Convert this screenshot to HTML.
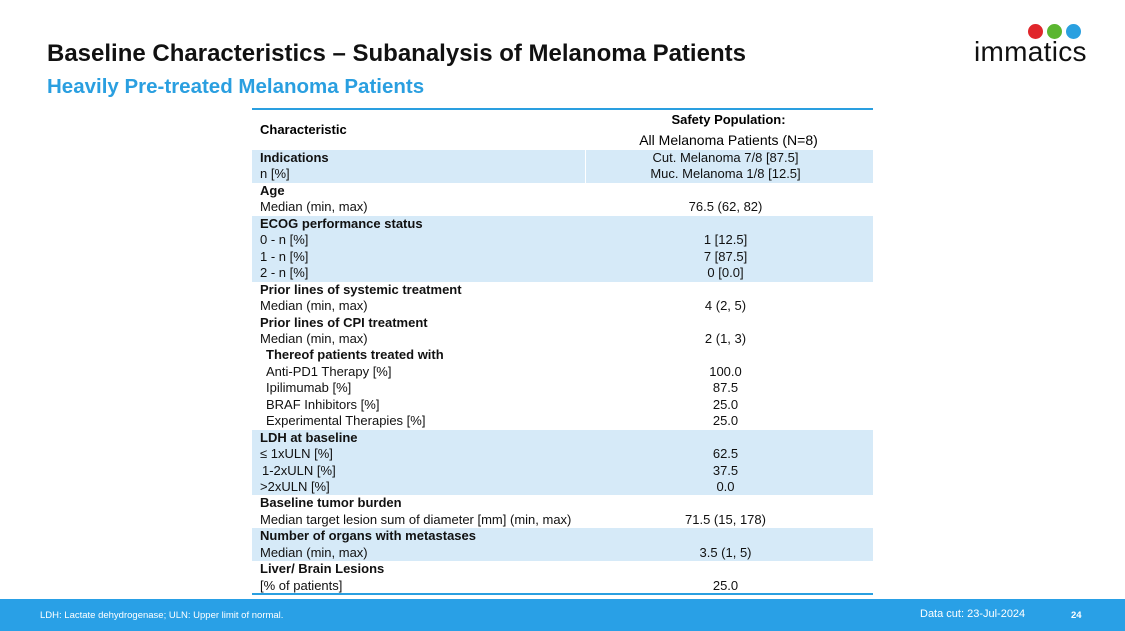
<!DOCTYPE html>
<html><head><meta charset="utf-8"><style>
body{margin:0;width:1125px;height:631px;position:relative;overflow:hidden;background:#fff;font-family:"Liberation Sans",sans-serif}
.t{position:absolute;white-space:nowrap}
#title{left:47px;top:40px;font-size:24px;font-weight:bold;color:#111}
#sub{left:47px;top:75px;font-size:20.5px;font-weight:bold;color:#2a9fe0}
.row{position:absolute;left:252px;width:621px;height:16.45px;font-size:13px;line-height:16.45px;color:#111}
.row.sh{background:#d6eaf8}
.row .a{position:absolute;left:8px}
.row .b{position:absolute;left:351px;width:245px;text-align:center}
#foot{position:absolute;left:0;top:599px;width:1125px;height:32px;background:#29a0e6;color:#fff;font-size:9.5px}
</style></head><body>
<div class="t" id="title">Baseline Characteristics – Subanalysis of Melanoma Patients</div>
<div class="t" id="sub">Heavily Pre-treated Melanoma Patients</div>
<div style="position:absolute;left:972px;top:22px;width:125px;height:48px">
<div style="position:absolute;left:56px;top:2px;width:15px;height:15px;border-radius:50%;background:#e0262b"></div>
<div style="position:absolute;left:75px;top:2px;width:15px;height:15px;border-radius:50%;background:#5bb630"></div>
<div style="position:absolute;left:94px;top:2px;width:15px;height:15px;border-radius:50%;background:#2aa0e0"></div>
<div class="t" style="left:2px;top:14px;font-size:28px;line-height:32px;color:#111;letter-spacing:0.3px">immatics</div>
</div>
<div style="position:absolute;left:252px;top:108px;width:621px;height:1.5px;background:#2a9fe0"></div>
<div class="t" style="left:260px;top:122px;font-size:13px;font-weight:bold">Characteristic</div>
<div class="t" style="left:606px;width:245px;text-align:center;top:112px;font-size:13px;font-weight:bold">Safety Population:</div>
<div class="t" style="left:606px;width:245px;text-align:center;top:132px;font-size:14px">All Melanoma Patients (N=8)</div>
<div id="rows"></div>
<div style="position:absolute;left:252px;top:593px;width:621px;height:2px;background:#2a9fe0"></div>
<div id="foot">
<span class="t" style="left:40px;top:11px">LDH: Lactate dehydrogenase; ULN: Upper limit of normal.</span>
<span class="t" style="left:920px;top:9px;font-size:11px">Data cut: 23-Jul-2024</span>
<span class="t" style="left:1071px;top:11px;font-weight:bold">24</span>
</div>
<script>
const labels=["Indications","n [%]","Age","Median (min, max)","ECOG performance status","0 - n [%]","1 - n [%]","2 - n [%]","Prior lines of systemic treatment","Median (min, max)","Prior lines of CPI treatment","Median (min, max)","  Thereof patients treated with","  Anti-PD1 Therapy [%]","  Ipilimumab [%]","  BRAF Inhibitors [%]","  Experimental Therapies [%]","LDH at baseline","≤ 1xULN [%]"," 1-2xULN [%]",">2xULN [%]","Baseline tumor burden","Median target lesion sum of diameter [mm] (min, max)","Number of organs with metastases","Median (min, max)","Liver/ Brain Lesions","[% of patients]"];
const values=["Cut. Melanoma 7/8 [87.5]","Muc. Melanoma 1/8 [12.5]","","76.5 (62, 82)","","1 [12.5]","7 [87.5]","0 [0.0]","","4 (2, 5)","","2 (1, 3)","","100.0","87.5","25.0","25.0","","62.5","37.5","0.0","","71.5 (15, 178)","","3.5 (1, 5)","","25.0"];
const bold=[1,0,1,0,1,0,0,0,1,0,1,0,1,0,0,0,0,1,0,0,0,1,0,1,0,1,0];
const shaded=[1,1,0,0,1,1,1,1,0,0,0,0,0,0,0,0,0,1,1,1,1,0,0,1,1,0,0];
const c=document.getElementById('rows');
labels.forEach((l,i)=>{
 const r=document.createElement('div');
 r.className='row'+(shaded[i]?' sh':'');
 r.style.top=(150+i*16.45)+'px';
 
 
 const a=document.createElement('span');a.className='a';a.textContent=l.replace(/^ +/,'');
 if(/^ /.test(l))a.style.left=(l.startsWith('  ')?14:10)+'px';
 if(bold[i])a.style.fontWeight='bold';
 
 
 const b=document.createElement('span');b.className='b';b.textContent=values[i];
 
 
 r.appendChild(a);r.appendChild(b);c.appendChild(r);
});
const d=document.createElement('div');
d.style.cssText='position:absolute;left:585px;top:150px;width:1px;height:33px;background:#fff';


c.appendChild(d);
</script>
</body></html>
